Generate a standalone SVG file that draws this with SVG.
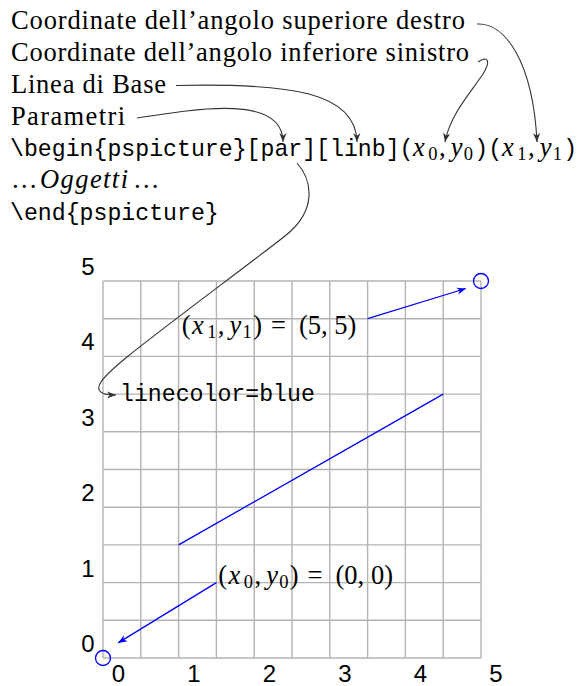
<svg xmlns="http://www.w3.org/2000/svg" width="581" height="686" viewBox="0 0 581 686">
<style>
.rm{font-family:"Liberation Serif","DejaVu Serif",serif;font-size:26.5px;fill:#000}
.it{font-family:"Liberation Serif","DejaVu Serif",serif;font-size:26.5px;font-style:italic;fill:#000}
.sb{font-family:"Liberation Serif","DejaVu Serif",serif;font-size:18.5px;fill:#000}
.tt{font-family:"Liberation Mono","DejaVu Sans Mono",monospace;font-size:23.2px;fill:#000}
.lab{font-family:"Liberation Sans",Arial,sans-serif;font-size:24px;fill:#000;text-anchor:middle}
.grid line{stroke:#b3b3b3;stroke-width:1.4}
.con{fill:none;stroke:#333;stroke-width:1.1}
.blue{fill:none;stroke:#0000ff;stroke-width:1.3}
</style>
<defs>
<marker id="ah" viewBox="-10 -5 12 10" refX="0" refY="0" markerWidth="12" markerHeight="10" orient="auto" markerUnits="userSpaceOnUse">
<path d="M0,0 L-9,-3.6 L-6.3,0 L-9,3.6 Z" fill="#333"/>
</marker>
<marker id="ahb" viewBox="-10 -5 12 10" refX="0" refY="0" markerWidth="12" markerHeight="10" orient="auto" markerUnits="userSpaceOnUse">
<path d="M0,0 L-9,-3.6 L-6.3,0 L-9,3.6 Z" fill="#0000ff"/>
</marker>
</defs>
<rect width="581" height="686" fill="#fff"/>

<g id="line-sup"><text class="rm" x="11" y="29" textLength="454" lengthAdjust="spacing">Coordinate dell’angolo superiore destro</text></g>
<g id="line-inf"><text class="rm" x="11" y="61" textLength="458" lengthAdjust="spacing">Coordinate dell’angolo inferiore sinistro</text></g>
<g id="line-base"><text class="rm" x="11" y="92.5" textLength="155" lengthAdjust="spacing">Linea di Base</text></g>
<g id="line-par"><text class="rm" x="11" y="124.5" textLength="114" lengthAdjust="spacing">Parametri</text></g>
<g id="line-begin">
<text class="tt" x="10" y="156">\begin{pspicture}[par][linb](</text>
<text class="it" x="413.1" y="156">x</text><text class="sb" x="428.3" y="160">0</text><text class="rm" x="439" y="156">,</text>
<text class="it" x="450.7" y="156">y</text><text class="sb" x="463.7" y="160">0</text>
<text class="tt" x="474.3" y="156">)(</text>
<text class="it" x="502.1" y="156">x</text><text class="sb" x="517.3" y="160">1</text><text class="rm" x="528" y="156">,</text>
<text class="it" x="539.7" y="156">y</text><text class="sb" x="552.7" y="160">1</text>
<text class="tt" x="563.3" y="156">)</text>
</g>
<g id="line-oggetti">
<text class="rm" x="11" y="188">…</text>
<text class="it" x="40" y="188" textLength="88" lengthAdjust="spacing">Oggetti</text>
<text class="rm" x="133" y="188">…</text>
</g>
<g id="line-end"><text class="tt" x="10" y="219.8">\end{pspicture}</text></g>

<g id="grid" class="grid">
<line x1="103" y1="281" x2="103" y2="658"/>
<line x1="140.8" y1="281" x2="140.8" y2="658"/>
<line x1="178.6" y1="281" x2="178.6" y2="658"/>
<line x1="216.4" y1="281" x2="216.4" y2="658"/>
<line x1="254.2" y1="281" x2="254.2" y2="658"/>
<line x1="292" y1="281" x2="292" y2="658"/>
<line x1="329.8" y1="281" x2="329.8" y2="658"/>
<line x1="367.6" y1="281" x2="367.6" y2="658"/>
<line x1="405.4" y1="281" x2="405.4" y2="658"/>
<line x1="443.2" y1="281" x2="443.2" y2="658"/>
<line x1="481" y1="281" x2="481" y2="658"/>
<line x1="103" y1="281" x2="481" y2="281"/>
<line x1="103" y1="318.7" x2="481" y2="318.7"/>
<line x1="103" y1="356.4" x2="481" y2="356.4"/>
<line x1="103" y1="394.1" x2="481" y2="394.1"/>
<line x1="103" y1="431.8" x2="481" y2="431.8"/>
<line x1="103" y1="469.5" x2="481" y2="469.5"/>
<line x1="103" y1="507.2" x2="481" y2="507.2"/>
<line x1="103" y1="544.9" x2="481" y2="544.9"/>
<line x1="103" y1="582.6" x2="481" y2="582.6"/>
<line x1="103" y1="620.3" x2="481" y2="620.3"/>
<line x1="103" y1="658" x2="481" y2="658"/>
</g>
<g id="ylabels">
<text class="lab" x="88" y="652">0</text>
<text class="lab" x="88" y="576.6">1</text>
<text class="lab" x="88" y="501.2">2</text>
<text class="lab" x="88" y="425.8">3</text>
<text class="lab" x="88" y="350.4">4</text>
<text class="lab" x="88" y="275">5</text>
</g>
<g id="xlabels">
<text class="lab" x="118.5" y="682">0</text>
<text class="lab" x="194" y="682">1</text>
<text class="lab" x="269.5" y="682">2</text>
<text class="lab" x="345" y="682">3</text>
<text class="lab" x="420.5" y="682">4</text>
<text class="lab" x="496" y="682">5</text>
</g>

<g id="lbl-p1">
<text class="rm" x="181.7" y="334">(</text><text class="it" x="192" y="334">x</text><text class="sb" x="207.2" y="338">1</text><text class="rm" x="217.8" y="334">,</text>
<text class="it" x="229.6" y="334">y</text><text class="sb" x="242.6" y="338">1</text><text class="rm" x="253.2" y="334">)</text>
<text class="rm" x="271" y="334">=</text>
<text class="rm" x="298.9" y="334">(5,</text><text class="rm" x="334.3" y="334">5)</text>
</g>
<g id="lbl-p0">
<text class="rm" x="218.3" y="584">(</text><text class="it" x="228.6" y="584">x</text><text class="sb" x="243.8" y="588">0</text><text class="rm" x="254.4" y="584">,</text>
<text class="it" x="266.2" y="584">y</text><text class="sb" x="279.2" y="588">0</text><text class="rm" x="289.8" y="584">)</text>
<text class="rm" x="307.6" y="584">=</text>
<text class="rm" x="335.5" y="584">(0,</text><text class="rm" x="370.9" y="584">0)</text>
</g>
<g id="lbl-linecolor"><text class="tt" x="120" y="400.5">linecolor=blue</text></g>

<g id="blue-shapes">
<circle class="blue" cx="103" cy="658" r="7.5"/>
<circle class="blue" cx="481" cy="281" r="7.5"/>
<line class="blue" x1="178.6" y1="544.9" x2="443.2" y2="394.1"/>
</g>

<g id="connectors">
<path class="con" d="M477,24 C505,22 533,62 537,142" marker-end="url(#ah)"/>
<path class="con" d="M478,62 C488,55 491,61 483,74 C471,92 450,115 445,142" marker-end="url(#ah)"/>
<path class="con" d="M176,85.5 C290,83 356,92 357,142" marker-end="url(#ah)"/>
<path class="con" d="M137,118 C200,108 283,95 283,142" marker-end="url(#ah)"/>
<path class="con" d="M297,163 C312,180 318,210 285,236 C252,262 160,330 127,357 C105,375 82,395 116,395" marker-end="url(#ah)"/>
<line class="blue" x1="216.4" y1="582.6" x2="118.1" y2="642.9" marker-end="url(#ahb)"/>
<line class="blue" x1="367.6" y1="318.7" x2="465.9" y2="288.5" marker-end="url(#ahb)"/>
</g>
</svg>
